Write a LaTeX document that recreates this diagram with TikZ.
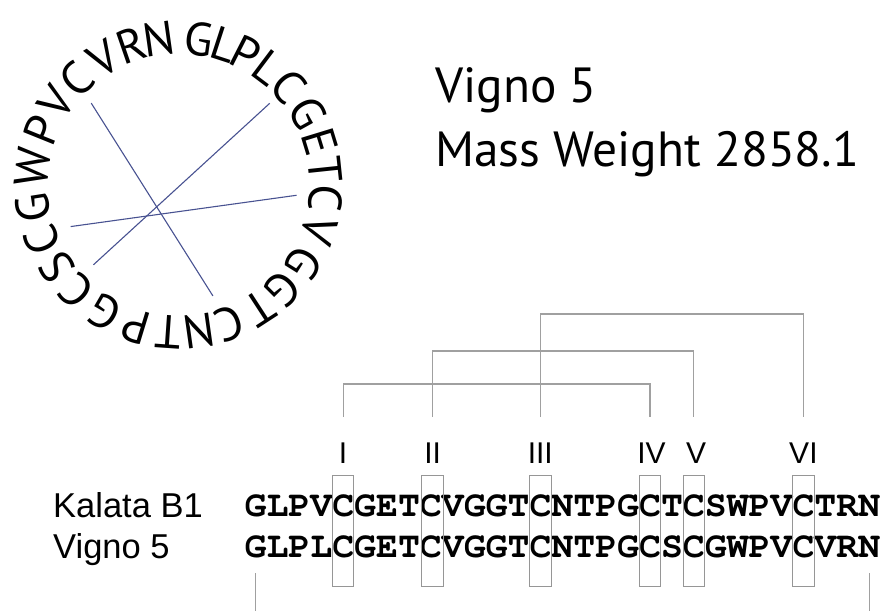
\documentclass[tikz,border=0pt]{standalone}
\usepackage{fontspec}
\newfontfamily\humfont{PT Sans}
\newfontfamily\labfont{Liberation Sans}
% slab-serif typewriter face for the aligned residues
\newcommand\typeface{\fontencoding{T1}\fontfamily{pcr}\fontseries{b}\selectfont}
\definecolor{chordcol}{RGB}{72,82,145}
\definecolor{bracketcol}{RGB}{160,160,160}
\definecolor{boxcol}{RGB}{150,150,150}
\begin{document}
\begin{tikzpicture}[x=1pt,y=1pt,
  ringletter/.style={font=\humfont\fontsize{47}{47}\selectfont, inner sep=0, anchor=base},
  chord/.style={draw=chordcol, line width=1.1pt},
  titletext/.style={font=\humfont\fontsize{49.4}{49.4}\selectfont, inner sep=0, anchor=base west},
  rowlabel/.style={font=\labfont\fontsize{34.5}{34.5}\selectfont, inner sep=0, anchor=base west},
  seqrow/.style={font=\typeface\fontsize{36.53}{36.53}\selectfont, inner sep=0, anchor=base west},
  numeral/.style={font=\labfont\fontsize{30}{30}\selectfont, inner sep=0, anchor=base},
  cysbox/.style={draw=boxcol, line width=1pt, minimum width=21.5pt, minimum height=111pt, inner sep=0},
  bond/.style={draw=bracketcol, line width=1.2pt},
  backbone/.style={draw=bracketcol, line width=1.2pt}]
\useasboundingbox (0,0) rectangle (882,611);

% cyclic sequence written round a circle, clockwise from the top
\coordinate (ctr) at (179,426);
\begin{scope}[shift={(ctr)}]
  \foreach \ch/\b [count=\i] in {G/8, L/18, P/27, L/37, C/48, G/61, E/73, T/84,
      C/95, V/108, G/122, G/135, T/147, C/160, N/172, T/184, P/197, G/210,
      C/224, S/236, C/248, G/261, W/277, P/292, V/304, C/316, V/329, R/341, N/352} {
    \node[ringletter, rotate=-\b] (r\i) at ({90-\b}:131) {\ch};
  }
  % disulfide bonds across the ring
  \coordinate (c1) at ({90-48}:122);
  \coordinate (c2) at ({90-95}:118);
  \coordinate (c3) at ({90-163}:116);
  \coordinate (c4) at ({90-227}:117);
  \coordinate (c5) at ({90-249}:116);
  \coordinate (c6) at ({90-313}:120);
\end{scope}
\draw[chord] (c1) -- (c4);
\draw[chord] (c2) -- (c5);
\draw[chord] (c3) -- (c6);

% name and mass
\node[titletext] (name) at (435,508) {Vigno 5};
\node[titletext] (mass) at (435,444) {Mass Weight 2858.1};

% aligned sequences
\node[rowlabel] (lab1) at (53,94) {Kalata B1};
\node[rowlabel] (lab2) at (53,53) {Vigno 5};
\node[seqrow] (seq1) at (244.4,95) {GLPVCGETCVGGTCNTPGCTCSWPVCTRN};
\node[seqrow] (seq2) at (244.4,54) {GLPLCGETCVGGTCNTPGCSCGWPVCVRN};

% cysteine columns, numerals and boxes
\foreach \x/\lab/\lx [count=\k] in {343.1/I/343.1, 432.7/II/432.7, 540.3/III/540.3,
    649.9/IV/651.5, 693.8/V/696, 803.4/VI/803.4} {
  \node[cysbox] (box\k) at (\x,80.5) {};
  \node[numeral] (num\k) at (\lx,148) {\lab};
  \coordinate (b\k) at (\x,194);
}

% disulfide connectivity I-IV, II-V, III-VI
\draw[bond] (b1) -- ++(0,33) -| (b4);
\draw[bond] (b2) -- ++(0,66) -| (b5);
\draw[bond] (b3) -- ++(0,103) -| (b6);

% backbone ends continuing below
\coordinate (e1) at (255.4,38);
\coordinate (e1b) at (255.4,0);
\coordinate (e2) at (869.6,38);
\coordinate (e2b) at (869.6,0);
\draw[backbone] (e1) -- (e1b);
\draw[backbone] (e2) -- (e2b);
\end{tikzpicture}
\end{document}
